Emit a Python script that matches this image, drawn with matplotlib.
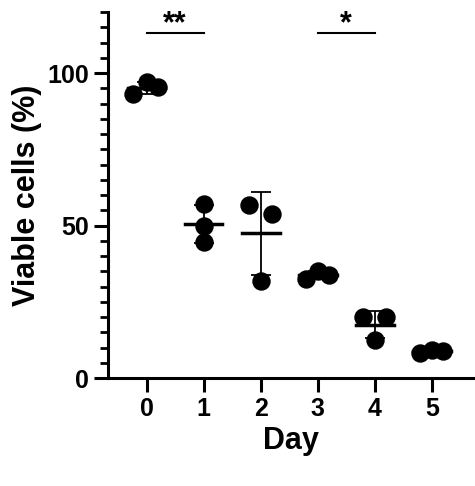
import matplotlib.pyplot as plt
import numpy as np
from matplotlib.ticker import MultipleLocator

days = [0, 1, 2, 3, 4, 5]
viable = [
    [93.0, 97.1, 95.3],
    [57.0, 49.9, 44.7],
    [56.7, 53.8, 31.9],
    [32.5, 35.2, 33.9],
    [20.1, 20.1, 12.5],
    [8.3, 9.2, 8.9],
]
jitter = [
    [-0.23, 0.0, 0.2],
    [0.0, 0.0, 0.0],
    [-0.2, 0.2, 0.0],
    [-0.2, 0.0, 0.2],
    [-0.2, 0.2, 0.0],
    [-0.2, 0.0, 0.2],
]
sig_pairs = [(0, 1, '**'), (3, 4, '*')]

plt.rcParams['font.family'] = 'Liberation Sans'
plt.rcParams['font.weight'] = 'bold'
fig = plt.figure(figsize=(4.75, 4.86), dpi=100)
ax = fig.add_axes([0.227, 0.222, 0.771, 0.753])

for d, vals, jit in zip(days, viable, jitter):
    vals = np.array(vals)
    m, s = vals.mean(), vals.std(ddof=1)
    ax.scatter(d + np.array(jit), vals, s=150, color='black', zorder=3)
    ax.plot([d - 0.33, d + 0.33], [m, m], color='black', lw=2.5, zorder=4)
    ax.errorbar(d, m, yerr=s, color='black', lw=1.3, capsize=7, capthick=1.3, zorder=4)

for a, b, lab in sig_pairs:
    ax.plot([a, b], [113, 113], color='black', lw=1.5)
    ax.text((a + b) / 2, 111, lab, ha='center', va='bottom', fontsize=22)

ax.set_xlim(-0.68, 5.74)
ax.set_ylim(0, 120)
ax.set_xticks(days)
ax.set_yticks([0, 50, 100])
ax.yaxis.set_minor_locator(MultipleLocator(5))
for sp in ['top', 'right']:
    ax.spines[sp].set_visible(False)
for sp in ['left', 'bottom']:
    ax.spines[sp].set_linewidth(2.2)
ax.tick_params(width=2.2, length=10, labelsize=18)
ax.tick_params(which='minor', width=2, length=6)
ax.set_xlabel('Day', fontsize=22, fontweight='bold')
ax.set_ylabel('Viable cells (%)', fontsize=22, fontweight='bold')
fig.savefig('out.png')
